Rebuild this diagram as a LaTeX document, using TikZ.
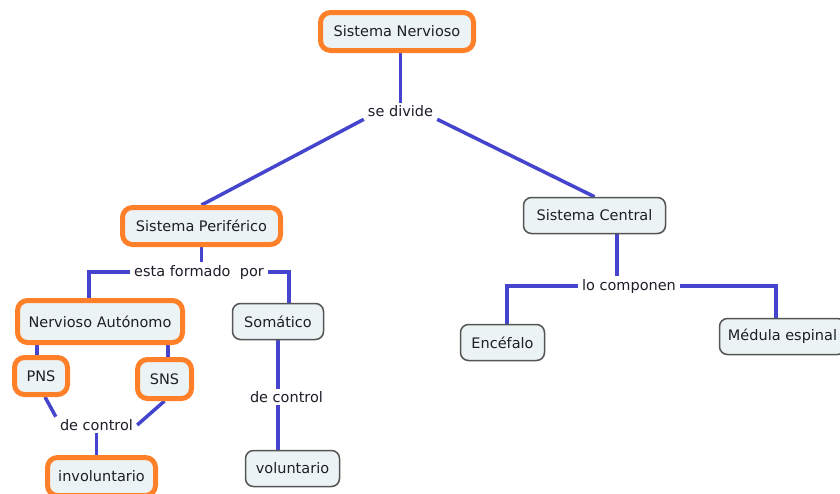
\documentclass[tikz,border=0pt]{standalone}
\usepackage{fontspec}
\setmainfont{DejaVu Sans}
\usetikzlibrary{backgrounds}
\definecolor{conn}{RGB}{68,68,204}
\definecolor{hl}{RGB}{255,128,40}
\definecolor{boxfill}{RGB}{236,243,245}
\definecolor{boxline}{RGB}{85,85,85}
\definecolor{txt}{RGB}{30,30,40}
\begin{document}
\begin{tikzpicture}[x=1pt,y=-1pt,
  every node/.style={font=\fontsize{14.5}{16}\selectfont, text=txt},
  concept/.style={draw=boxline, line width=1.5pt, fill=boxfill, rounded corners=8pt, inner sep=0pt},
  keybox/.style={concept, draw=hl, line width=5pt, rounded corners=10pt},
  lbl/.style={inner xsep=4pt, inner ysep=2.5pt},
  link/.style={draw=conn, line width=3.5pt}]
\clip (0,0) rectangle (840,493);

\node[keybox, minimum width=153pt, minimum height=38pt] (nerv) at (397,31.5) {Sistema Nervioso};
\node[lbl] (sediv) at (400.5,111) {se divide};
\node[keybox, minimum width=158pt, minimum height=37pt] (perif) at (201.5,226) {Sistema Periférico};
\node[concept, minimum width=142pt, minimum height=36pt] (central) at (594.5,215.5) {Sistema Central};
\node[lbl] (esta) at (199,272) {esta formado\ \ por};
\node[keybox, minimum width=165pt, minimum height=42pt] (auto) at (100,321.5) {Nervioso Autónomo};
\node[concept, minimum width=91pt, minimum height=36pt] (soma) at (278,321.5) {Somático};
\node[keybox, minimum width=53pt, minimum height=37pt] (pns) at (41,376) {PNS};
\node[keybox, minimum width=54pt, minimum height=39pt] (sns) at (164.5,379) {SNS};
\node[lbl] (dc1) at (96.5,425) {de control};
\node[keybox, minimum width=108pt, minimum height=38pt] (invol) at (101.5,476.5) {involuntario};
\node[lbl] (dc2) at (286.5,397) {de control};
\node[concept, minimum width=94pt, minimum height=36pt] (vol) at (292.5,468.5) {voluntario};
\node[lbl] (lo) at (629,286) {lo componen};
\node[concept, minimum width=84pt, minimum height=36pt] (encef) at (502.5,342.5) {Encéfalo};
\node[concept, minimum width=126pt, minimum height=36pt] (med) at (782.5,336.5) {Médula espinal};

\begin{pgfonlayer}{background}
\fill[white] (0,0) rectangle (840,493);
\draw[link] (sediv.north) -- (sediv.north |- nerv.south);
\draw[link] (sediv.south west) -- (perif.north);
\draw[link] (sediv.south east) -- (central.north);
\draw[link] (perif.south) -- (perif.south |- esta.north);
\draw[link] (esta.west) -| ([xshift=-11pt]auto.north);
\draw[link] (esta.east) -| ([xshift=11pt]soma.north);
\draw[link] ([xshift=-4pt]pns.north) -- ([xshift=-4pt]pns.north |- auto.south);
\draw[link] ([xshift=3.5pt]sns.north) -- ([xshift=3.5pt]sns.north |- auto.south);
\draw[link] ([xshift=4pt]pns.south) -- (dc1.north west);
\draw[link] (sns.south) -- (dc1.east);
\draw[link] (dc1.south) -- (dc1.south |- invol.north);
\draw[link] (soma.south) -- (soma.south |- dc2.north);
\draw[link] (soma.south |- dc2.south) -- (soma.south |- vol.north);
\draw[link] ([xshift=22.5pt]central.south) -- ([xshift=22.5pt]central.south |- lo.north);
\draw[link] (lo.west) -| ([xshift=4.5pt]encef.north);
\draw[link] (lo.east) -| ([xshift=-6.5pt]med.north);
\end{pgfonlayer}
\end{tikzpicture}
\end{document}
